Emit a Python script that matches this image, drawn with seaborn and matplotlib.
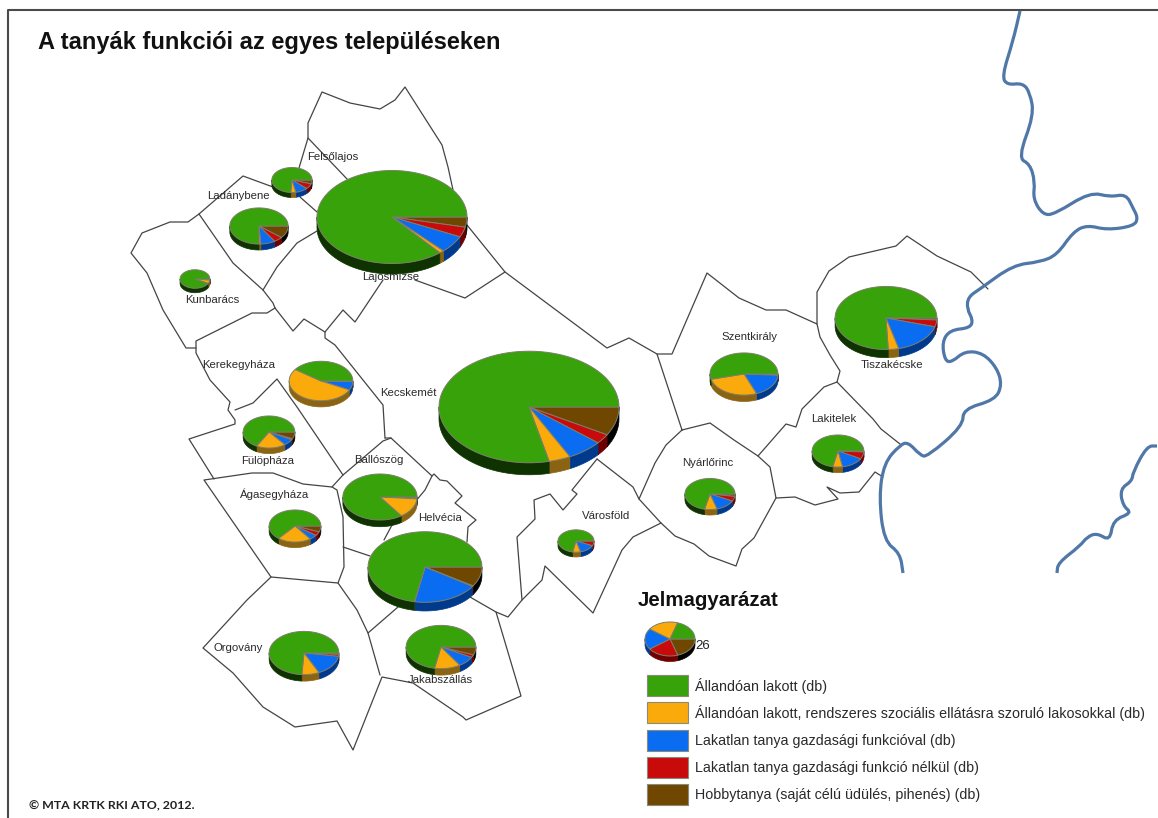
import numpy as np
import matplotlib
matplotlib.use("Agg")
import matplotlib.pyplot as plt
from matplotlib.patches import Rectangle, PathPatch
from matplotlib.path import Path
import seaborn as sns

# settlements and the share of each farm function, in percent
names = ['Lajosmizse', 'Kecskemét', 'Helvécia', 'Tiszakécske', 'Orgovány', 'Jakabszállás',
         'Ballószög', 'Kerekegyháza', 'Szentkirály', 'Ladánybene', 'Felsőlajos', 'Kunbarács',
         'Fülöpháza', 'Ágasegyháza', 'Nyárlőrinc', 'Lakitelek', 'Városföld']
totals = [1390, 2000, 800, 640, 300, 300, 340, 250, 285, 210, 100, 55, 165, 165, 155, 165, 80]
allando = [86, 78.6, 72, 75.7, 74, 72, 84.7, 40, 54, 75, 74, 92, 67, 64, 71.5, 71, 72]
szocialis = [1, 3.9, 0.1, 3.3, 8, 12, 14, 52.5, 27, 1, 4, 6, 18.5, 21, 8, 6, 7]
gazdasagi = [6, 6.4, 18.6, 16.5, 15.5, 8, 1, 7, 18, 8, 10, 1, 6.5, 5, 13, 14, 14]
funkcio_nelkul = [3.5, 2.8, 0.3, 3.5, 1.5, 2, 0, 0.3, 0.3, 5, 7, 0.5, 1, 4, 5, 7, 7]
hobby = [3.5, 8.3, 9, 1, 1, 6, 0.3, 0.2, 0.7, 11, 5, 0.5, 7, 6, 2.5, 1, 0]

# map position of each pie and of each name
pie_x = [392, 529, 425, 886, 304, 441, 380, 321, 744, 259, 292, 195, 269, 295, 710, 838, 576]
pie_y = [217, 407, 567, 318, 653, 647, 497, 381, 374, 226, 180, 279, 432, 526, 494, 451, 541]
label_x = [391, 408, 440, 892, 238, 440, 379, 239, 749, 238, 333, 212, 268, 275, 708, 834, 606]
label_y = [277, 393, 518, 365, 648, 680, 460, 365, 337, 196, 157, 300, 461, 494, 463, 419, 516]

legend_labels = ['Állandóan lakott (db)',
                 'Állandóan lakott, rendszeres szociális ellátásra szoruló lakosokkal (db)',
                 'Lakatlan tanya gazdasági funkcióval (db)',
                 'Lakatlan tanya gazdasági funkció nélkül (db)',
                 'Hobbytanya (saját célú üdülés, pihenés) (db)']
legend_values = [20, 20, 20, 20, 20]

borders = [
    [(308, 138), (308, 123), (322, 92), (350, 103), (380, 109), (395, 100), (405, 87), (442, 145), (448, 167), (453, 190)],
    [(299, 168), (308, 138), (348, 180)],
    [(300, 197), (317, 212)],
    [(273, 187), (243, 176), (199, 214), (188, 222), (170, 222), (142, 233), (131, 253), (147, 273), (163, 310), (186, 348), (196, 348)],
    [(199, 214), (233, 263), (263, 290), (273, 303), (275, 308)],
    [(275, 308), (267, 313), (252, 313), (196, 341), (196, 353), (210, 380), (230, 402), (228, 410), (235, 420), (235, 424), (189, 439), (214, 479)],
    [(275, 308), (293, 331), (304, 319), (325, 332), (325, 338), (335, 345), (383, 405), (385, 438)],
    [(263, 290), (277, 267), (297, 243), (317, 231)],
    [(325, 332), (343, 310), (355, 322), (383, 280)],
    [(415, 280), (465, 298), (505, 272), (467, 225)],
    [(505, 272), (607, 348), (629, 338), (657, 354), (672, 354), (707, 273), (739, 298), (766, 310), (786, 310), (817, 324),
     (817, 292), (829, 271), (849, 257), (896, 246), (907, 236), (937, 256), (971, 272), (988, 289)],
    [(817, 324), (820, 337), (830, 355), (840, 371), (837, 382), (824, 387), (802, 409), (796, 427), (786, 424), (758, 456)],
    [(837, 382), (873, 419), (881, 429), (900, 444)],
    [(776, 498), (795, 497), (815, 505), (838, 499), (827, 487), (840, 493), (859, 492), (875, 472), (883, 477)],
    [(657, 354), (682, 430), (710, 423), (734, 440), (758, 456), (770, 467), (776, 498), (754, 538), (742, 549), (736, 566),
     (709, 556), (694, 544), (675, 536), (661, 523), (639, 499), (655, 463), (666, 445), (682, 430)],
    [(597, 459), (633, 487), (639, 499)],
    [(597, 459), (572, 490), (577, 494), (563, 510), (550, 494), (534, 500), (535, 519), (517, 537), (518, 550), (522, 600),
     (508, 617), (496, 612), (470, 597)],
    [(522, 600), (542, 580), (545, 566), (593, 613), (622, 550), (633, 537), (661, 523)],
    [(235, 410), (253, 403), (277, 379), (297, 407), (343, 475), (332, 487), (303, 484), (273, 473), (252, 473), (204, 480), (271, 577), (338, 583)],
    [(385, 438), (391, 438), (432, 476), (434, 474), (440, 480), (447, 481), (462, 496), (455, 503), (476, 520), (468, 527), (467, 542)],
    [(391, 438), (383, 441), (343, 475)],
    [(432, 476), (425, 490), (415, 502)],
    [(392, 525), (384, 540)],
    [(343, 547), (370, 556)],
    [(332, 487), (337, 490), (343, 517), (344, 567), (338, 583), (357, 610), (368, 633), (380, 675)],
    [(368, 633), (398, 607)],
    [(271, 577), (247, 600), (203, 648), (233, 673), (263, 707), (295, 727), (337, 721), (353, 750), (382, 677), (413, 683), (463, 717), (466, 720), (521, 696), (496, 612)],
]
rivers = [
    [(1020, 11), (1013, 41), (1002, 76), (1007, 85), (1023, 83), (1030, 93), (1034, 115), (1018, 158), (1030, 164), (1035, 182),
     (1033, 199), (1043, 215), (1055, 214), (1090, 192), (1110, 197), (1126, 194), (1133, 208), (1138, 218), (1134, 226), (1107, 230), (1087, 225),
     (1073, 232), (1057, 255), (1040, 262), (1013, 265), (980, 289), (968, 297), (967, 309), (973, 320), (970, 328), (950, 330),
     (942, 342), (945, 361), (952, 362), (965, 351), (983, 353), (997, 368), (1002, 385), (995, 400), (963, 409), (963, 426),
     (927, 457), (920, 455), (908, 442), (900, 445), (884, 463), (879, 497), (884, 541), (900, 553), (903, 573)],
    [(1157, 446), (1147, 446), (1133, 472), (1132, 481), (1120, 489), (1123, 506), (1132, 513), (1113, 520), (1110, 541), (1097, 533),
     (1087, 537), (1080, 546), (1058, 563), (1057, 573)],
]

sns.set_theme(style='white')
plt.rcParams['font.family'] = ['Liberation Sans', 'DejaVu Sans']

# top colour and side wall colour of the slices, clockwise from east
series = [hobby, funkcio_nelkul, gazdasagi, szocialis, allando]
top_colors = sns.color_palette(['#6f4700', '#c80a0a', '#0a6cf0', '#fbaa0c', '#37a20a'])
wall_colors = sns.color_palette(['#000000', '#6e0000', '#003a8c', '#8a6412', '#0e3300'])


def draw_pie(ax, cx, cy, rx, values, squash=0.62):
    ry = rx * squash
    depth = 3 + 0.1 * rx
    edges = np.radians(np.concatenate([[0], np.cumsum(values)]) / sum(values) * 360)
    for a0, a1, top, wall in zip(edges[:-1], edges[1:], top_colors, wall_colors):
        if a1 <= a0:
            continue
        # wall only shows on the front half
        w0, w1 = a0, min(a1, np.pi)
        if w1 > w0:
            t = np.linspace(w0, w1, 40)
            xs = cx + rx * np.cos(t)
            ys = cy + ry * np.sin(t)
            ax.fill(np.r_[xs, xs[::-1]], np.r_[ys, ys[::-1] + depth], color=wall, lw=0.5, zorder=3)
        t = np.linspace(a0, a1, 80)
        ax.fill(np.r_[cx, cx + rx * np.cos(t)], np.r_[cy, cy + ry * np.sin(t)],
                facecolor=top, edgecolor='#7d7d6a', lw=0.7, zorder=4)


def smooth_path(pts):
    # quadratic curves through the midpoints, the traced points act as controls
    pts = np.array(pts, dtype=float)
    mids = (pts[:-1] + pts[1:]) / 2
    verts = [pts[0], mids[0]]
    codes = [Path.MOVETO, Path.LINETO]
    for ctrl, end in zip(pts[1:-1], mids[1:]):
        verts += [ctrl, end]
        codes += [Path.CURVE3, Path.CURVE3]
    verts.append(pts[-1])
    codes.append(Path.LINETO)
    return Path(verts, codes)


fig, ax = plt.subplots(figsize=(11.58, 8.18), dpi=100)
fig.subplots_adjust(left=0, right=1, top=1, bottom=0)
ax.set_xlim(0, 1158)
ax.set_ylim(818, 0)
ax.axis('off')

for line in borders:
    pts = np.array(line)
    sns.lineplot(x=pts[:, 0], y=pts[:, 1], sort=False, estimator=None, color='#444444', lw=0.9, ax=ax, zorder=1)
for line in rivers:
    ax.add_patch(PathPatch(smooth_path(line), facecolor='none', edgecolor='#4f77a8', lw=2.3, zorder=1))

# frame is only closed at the top and left
ax.plot([8, 8, 1158], [818, 10, 10], color='#4a4a4a', lw=1.5, zorder=1)

for i, name in enumerate(names):
    vals = [s[i] for s in series]
    draw_pie(ax, pie_x[i], pie_y[i], 90 * np.sqrt(totals[i] / max(totals)), vals)
    ax.text(label_x[i], label_y[i], name, ha='center', va='center', fontsize=8.2, color='#2a2a2a', zorder=6)

ax.text(38, 42, 'A tanyák funkciói az egyes településeken', fontsize=17, fontweight='bold',
        color='#111111', va='center', ha='left')
ax.text(29, 806, '© MTA KRTK RKI ATO, 2012.', fontsize=8.9, fontweight='bold', family=['Lato', 'DejaVu Sans'],
        color='#222222', va='center', ha='left')

ax.text(638, 600, 'Jelmagyarázat', fontsize=14.7, fontweight='bold', color='#111111', va='center', ha='left')
draw_pie(ax, 670, 639, 25, legend_values, squash=0.68)
ax.text(695, 646, '26', fontsize=9.5, color='#222222', va='center', ha='left', zorder=6)

legend_y = [685.5, 713, 740.5, 768, 795]
for k, label in enumerate(legend_labels):
    ax.add_patch(Rectangle((647, legend_y[k] - 11), 41, 21, facecolor=top_colors[4 - k], edgecolor='#8a8a7a', lw=0.8, zorder=3))
    ax.text(695, legend_y[k], label, fontsize=10.3, color='#2a2a2a', va='center', ha='left')

fig.savefig('out.png', dpi=100)
